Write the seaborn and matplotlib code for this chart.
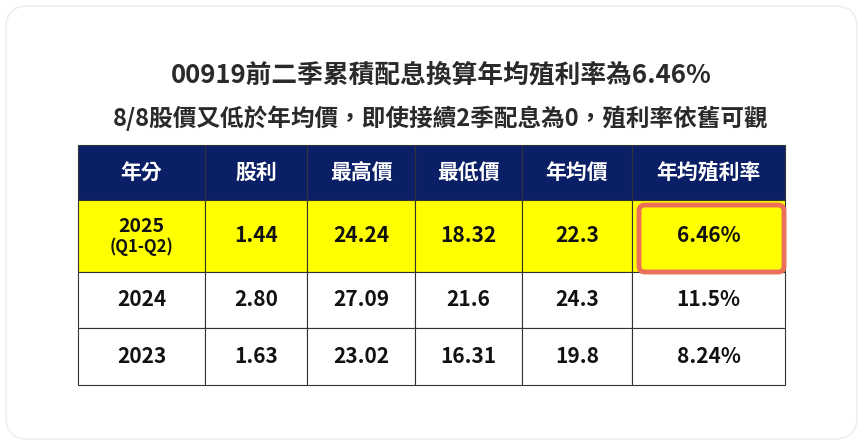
import matplotlib.pyplot as plt
import seaborn as sns
from matplotlib.patches import Rectangle, FancyBboxPatch

sns.set_theme(style="white")
plt.rcParams['font.family'] = ['Noto Sans CJK TC', 'DejaVu Sans']

# Table content
title1 = "00919前二季累積配息換算年均殖利率為6.46%"
title2 = "8/8股價又低於年均價，即使接續2季配息為0，殖利率依舊可觀"
columns = ["年分", "股利", "最高價", "最低價", "年均價", "年均殖利率"]
years = ["2025\n(Q1-Q2)", "2024", "2023"]
dividend = ["1.44", "2.80", "1.63"]
high = ["24.24", "27.09", "23.02"]
low = ["18.32", "21.6", "16.31"]
avg = ["22.3", "24.3", "19.8"]
yield_rate = ["6.46%", "11.5%", "8.24%"]

col_edges = [78, 205, 307, 415, 522, 632, 785]
row_edges = [145, 200, 272, 328, 385]
NAVY = "#0b1f66"
YELLOW = "#ffff00"

fig = plt.figure(figsize=(8.63, 4.45), dpi=100)
ax = fig.add_axes([0, 0, 1, 1])
ax.set_xlim(0, 863)
ax.set_ylim(445, 0)
ax.axis("off")

# rounded card border
ax.add_patch(FancyBboxPatch((6, 6), 851, 433, boxstyle="round,pad=0,rounding_size=22",
                            fc="white", ec="#ececec", lw=1.0))

ax.text(441, 75, title1, ha="center", va="center", fontsize=18.5, fontweight="bold", color="#2a2a2a")
ax.text(441, 118, title2, ha="center", va="center", fontsize=17, fontweight="bold", color="#2a2a2a")

rows = [columns] + [list(r) for r in zip(years, dividend, high, low, avg, yield_rate)]
for i, row in enumerate(rows):
    y0, y1 = row_edges[i], row_edges[i + 1]
    fc = NAVY if i == 0 else (YELLOW if i == 1 else "white")
    tc = "white" if i == 0 else "#111111"
    for j, val in enumerate(row):
        x0, x1 = col_edges[j], col_edges[j + 1]
        ax.add_patch(Rectangle((x0, y0), x1 - x0, y1 - y0, fc=fc, ec="#333333", lw=0.8))
        if "\n" in val:
            top, bot = val.split("\n")
            ax.text((x0 + x1) / 2, (y0 + y1) / 2 - 10, top, ha="center", va="center",
                    fontsize=14, fontweight="bold", color=tc)
            ax.text((x0 + x1) / 2, (y0 + y1) / 2 + 11, bot, ha="center", va="center",
                    fontsize=12, fontweight="bold", color=tc)
        else:
            ax.text((x0 + x1) / 2, (y0 + y1) / 2, val, ha="center", va="center",
                    fontsize=15, fontweight="bold", color=tc)

# highlight box around 6.46%
ax.add_patch(FancyBboxPatch((639, 205), 145, 67, boxstyle="round,pad=0,rounding_size=6",
                            fc="none", ec="#ec6f5a", lw=3.5))

fig.savefig("out.png", dpi=100)
